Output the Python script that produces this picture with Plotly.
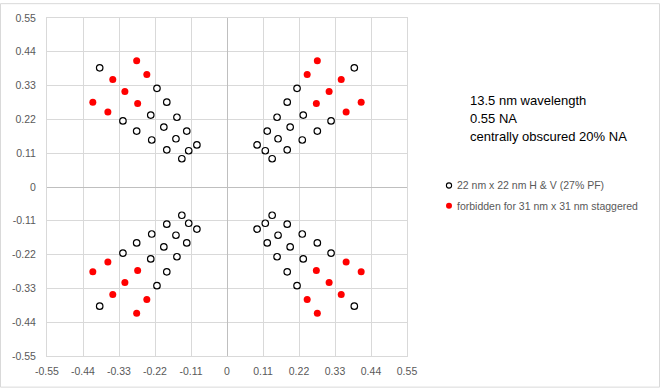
import plotly.graph_objects as go

# ---- data ----
# 22 nm x 22 nm H & V (27% PF) -- open circles, by quadrant
open_ul_x = [-0.389, -0.214, -0.184, -0.233, -0.153, -0.318, -0.193, -0.123, -0.276, -0.230, -0.156, -0.092, -0.117, -0.184, -0.138]
open_ul_y = [0.388, 0.321, 0.276, 0.234, 0.227, 0.215, 0.195, 0.182, 0.182, 0.153, 0.157, 0.137, 0.118, 0.121, 0.092]
open_ur_x = [0.389, 0.214, 0.184, 0.233, 0.153, 0.318, 0.193, 0.123, 0.276, 0.230, 0.156, 0.092, 0.117, 0.184, 0.138]
open_ur_y = [0.388, 0.321, 0.276, 0.234, 0.227, 0.215, 0.195, 0.182, 0.182, 0.153, 0.157, 0.137, 0.118, 0.121, 0.092]
open_ll_x = [-0.389, -0.214, -0.184, -0.233, -0.153, -0.318, -0.193, -0.123, -0.276, -0.230, -0.156, -0.092, -0.117, -0.184, -0.138]
open_ll_y = [-0.388, -0.321, -0.276, -0.234, -0.227, -0.215, -0.195, -0.182, -0.182, -0.153, -0.157, -0.137, -0.118, -0.121, -0.092]
open_lr_x = [0.389, 0.214, 0.184, 0.233, 0.153, 0.318, 0.193, 0.123, 0.276, 0.230, 0.156, 0.092, 0.117, 0.184, 0.138]
open_lr_y = [-0.388, -0.321, -0.276, -0.234, -0.227, -0.215, -0.195, -0.182, -0.182, -0.153, -0.157, -0.137, -0.118, -0.121, -0.092]

# forbidden for 31 nm x 31 nm staggered -- red dots, by quadrant
red_ul_x = [-0.276, -0.245, -0.349, -0.312, -0.410, -0.273, -0.364]
red_ul_y = [0.411, 0.366, 0.350, 0.311, 0.276, 0.272, 0.244]
red_ur_x = [0.276, 0.245, 0.349, 0.312, 0.410, 0.273, 0.364]
red_ur_y = [0.411, 0.366, 0.350, 0.311, 0.276, 0.272, 0.244]
red_ll_x = [-0.276, -0.245, -0.349, -0.312, -0.410, -0.273, -0.364]
red_ll_y = [-0.411, -0.366, -0.350, -0.311, -0.276, -0.272, -0.244]
red_lr_x = [0.276, 0.245, 0.349, 0.312, 0.410, 0.273, 0.364]
red_lr_y = [-0.411, -0.366, -0.350, -0.311, -0.276, -0.272, -0.244]

tick_vals = [-0.55, -0.44, -0.33, -0.22, -0.11, 0, 0.11, 0.22, 0.33, 0.44, 0.55]
tick_text = ["-0.55", "-0.44", "-0.33", "-0.22", "-0.11", "0", "0.11", "0.22", "0.33", "0.44", "0.55"]

series1_name = "22 nm x 22 nm H & V (27% PF)"
series2_name = "forbidden for 31 nm x 31 nm staggered"
info_lines = ["13.5 nm wavelength", "0.55 NA", "centrally obscured 20% NA"]

open_x = open_ul_x + open_ur_x + open_ll_x + open_lr_x
open_y = open_ul_y + open_ur_y + open_ll_y + open_lr_y
red_x = red_ul_x + red_ur_x + red_ll_x + red_lr_x
red_y = red_ul_y + red_ur_y + red_ll_y + red_lr_y

FONT = "Liberation Sans"
W, H = 660, 389
ML, MR, MT, MB = 47, 253, 15, 32
PW, PH = W - ML - MR, H - MT - MB


def px_x(px):
    return (px - ML) / PW


def px_y(py):
    return (H - MB - py) / PH


fig = go.Figure()
fig.add_trace(go.Scatter(
    x=open_x, y=open_y, mode="markers", name=series1_name,
    marker=dict(symbol="circle", size=6.5, color="white",
                line=dict(color="black", width=1.2)),
    showlegend=False))
fig.add_trace(go.Scatter(
    x=red_x, y=red_y, mode="markers", name=series2_name,
    marker=dict(symbol="circle", size=7, color="#ff0000",
                line=dict(color="#ff0000", width=0)),
    showlegend=False))

axis_common = dict(
    range=[-0.55, 0.55], tickvals=tick_vals, ticktext=tick_text,
    showgrid=True, gridcolor="#d9d9d9", gridwidth=1,
    zeroline=True, zerolinecolor="#bfbfbf", zerolinewidth=1,
    showline=True, linecolor="#d9d9d9", linewidth=1, mirror=True,
    ticks="", tickfont=dict(family=FONT, size=10.5, color="#595959"),
    fixedrange=True,
)
fig.update_xaxes(**axis_common, ticklabelstandoff=5)
fig.update_yaxes(**axis_common, ticklabelstandoff=8)

annotations = []
for line, py in zip(info_lines, [98.5, 116.8, 135]):
    annotations.append(dict(
        xref="paper", yref="paper", x=px_x(468), y=px_y(py),
        xanchor="left", yanchor="middle", showarrow=False, text=line,
        font=dict(family=FONT, size=13, color="#000000")))
for name, py in zip([series1_name, series2_name], [184, 205]):
    annotations.append(dict(
        xref="paper", yref="paper", x=px_x(455), y=px_y(py),
        xanchor="left", yanchor="middle", showarrow=False, text=name,
        font=dict(family=FONT, size=10.5, color="#595959")))

shapes = [
    # chart-area border
    dict(type="rect", xref="paper", yref="paper",
         x0=px_x(0.5), x1=px_x(W - 0.5), y0=px_y(H - 0.5), y1=px_y(0.5),
         line=dict(color="#d9d9d9", width=1), fillcolor="rgba(0,0,0,0)"),
    # legend symbols
    dict(type="circle", xref="paper", yref="paper",
         xsizemode="pixel", ysizemode="pixel",
         xanchor=px_x(449), yanchor=px_y(184.5), x0=-2.6, x1=2.6, y0=-2.6, y1=2.6,
         line=dict(color="black", width=1.1), fillcolor="white"),
    dict(type="circle", xref="paper", yref="paper",
         xsizemode="pixel", ysizemode="pixel",
         xanchor=px_x(449), yanchor=px_y(205), x0=-3, x1=3, y0=-3, y1=3,
         line=dict(color="#ff0000", width=0), fillcolor="#ff0000"),
]

fig.update_layout(
    width=W, height=H,
    margin=dict(l=ML, r=MR, t=MT, b=MB, pad=0),
    paper_bgcolor="white", plot_bgcolor="white",
    font=dict(family=FONT),
    annotations=annotations, shapes=shapes,
    showlegend=False,
)

post = (
    "document.documentElement.style.margin='0';"
    "document.documentElement.style.padding='0';"
    "document.body.style.margin='0';"
    "document.body.style.padding='0';"
    "document.body.style.overflow='hidden';"
)
fig.write_html("out.html", post_script=post, config={"displayModeBar": False})
